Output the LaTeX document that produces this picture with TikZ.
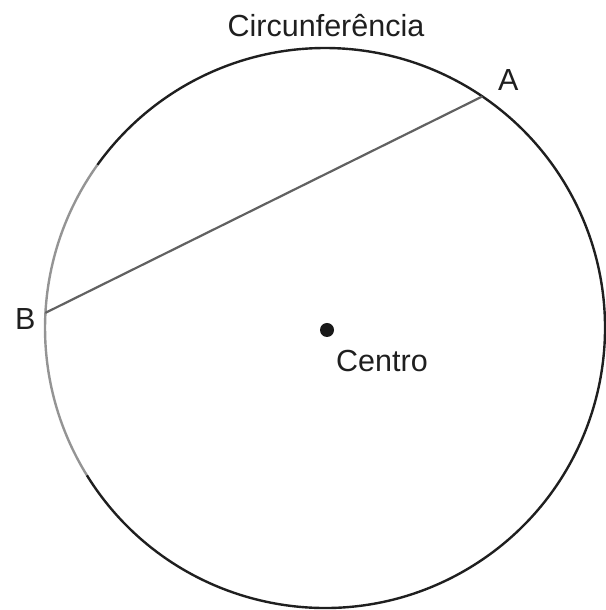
\documentclass[tikz,border=0pt]{standalone}
\usepackage{fontspec}
\setmainfont{Liberation Sans}
\usetikzlibrary{calc}
\begin{document}
\begin{tikzpicture}[x=1pt,y=1pt,
  lbl/.style={inner sep=0pt,text=black!88,font=\fontsize{30.5}{36}\selectfont},
  rim/.style={line width=2.4pt,draw=black!88},
  grayrim/.style={line width=2.4pt,draw=black!42},
  chord/.style={line width=2.2pt,draw=black!62}]
\useasboundingbox (0,0) rectangle (605,610);
\coordinate (c) at (325,282);
\coordinate (A) at ($(c)+(55.8:280)$);
\coordinate (B) at ($(c)+(176.9:280)$);
\draw[rim] ($(c)+(-148.3:280)$) arc[start angle=-148.3,end angle=144.4,radius=280];
\draw[grayrim] ($(c)+(144.4:280)$) arc[start angle=144.4,end angle=211.7,radius=280];
\draw[chord] (A) -- (B);
\node[circle,fill=black!90,minimum size=14pt,inner sep=0pt] (dot) at (327,280) {};
\node[lbl,anchor=base] (title) at (326,573) {Circunferência};
\node[lbl,anchor=base west] (la) at (498,519) {A};
\node[lbl,anchor=base west] (lb) at (15,280) {B};
\node[lbl,anchor=base west] (lc) at (336,238) {Centro};
\end{tikzpicture}
\end{document}
